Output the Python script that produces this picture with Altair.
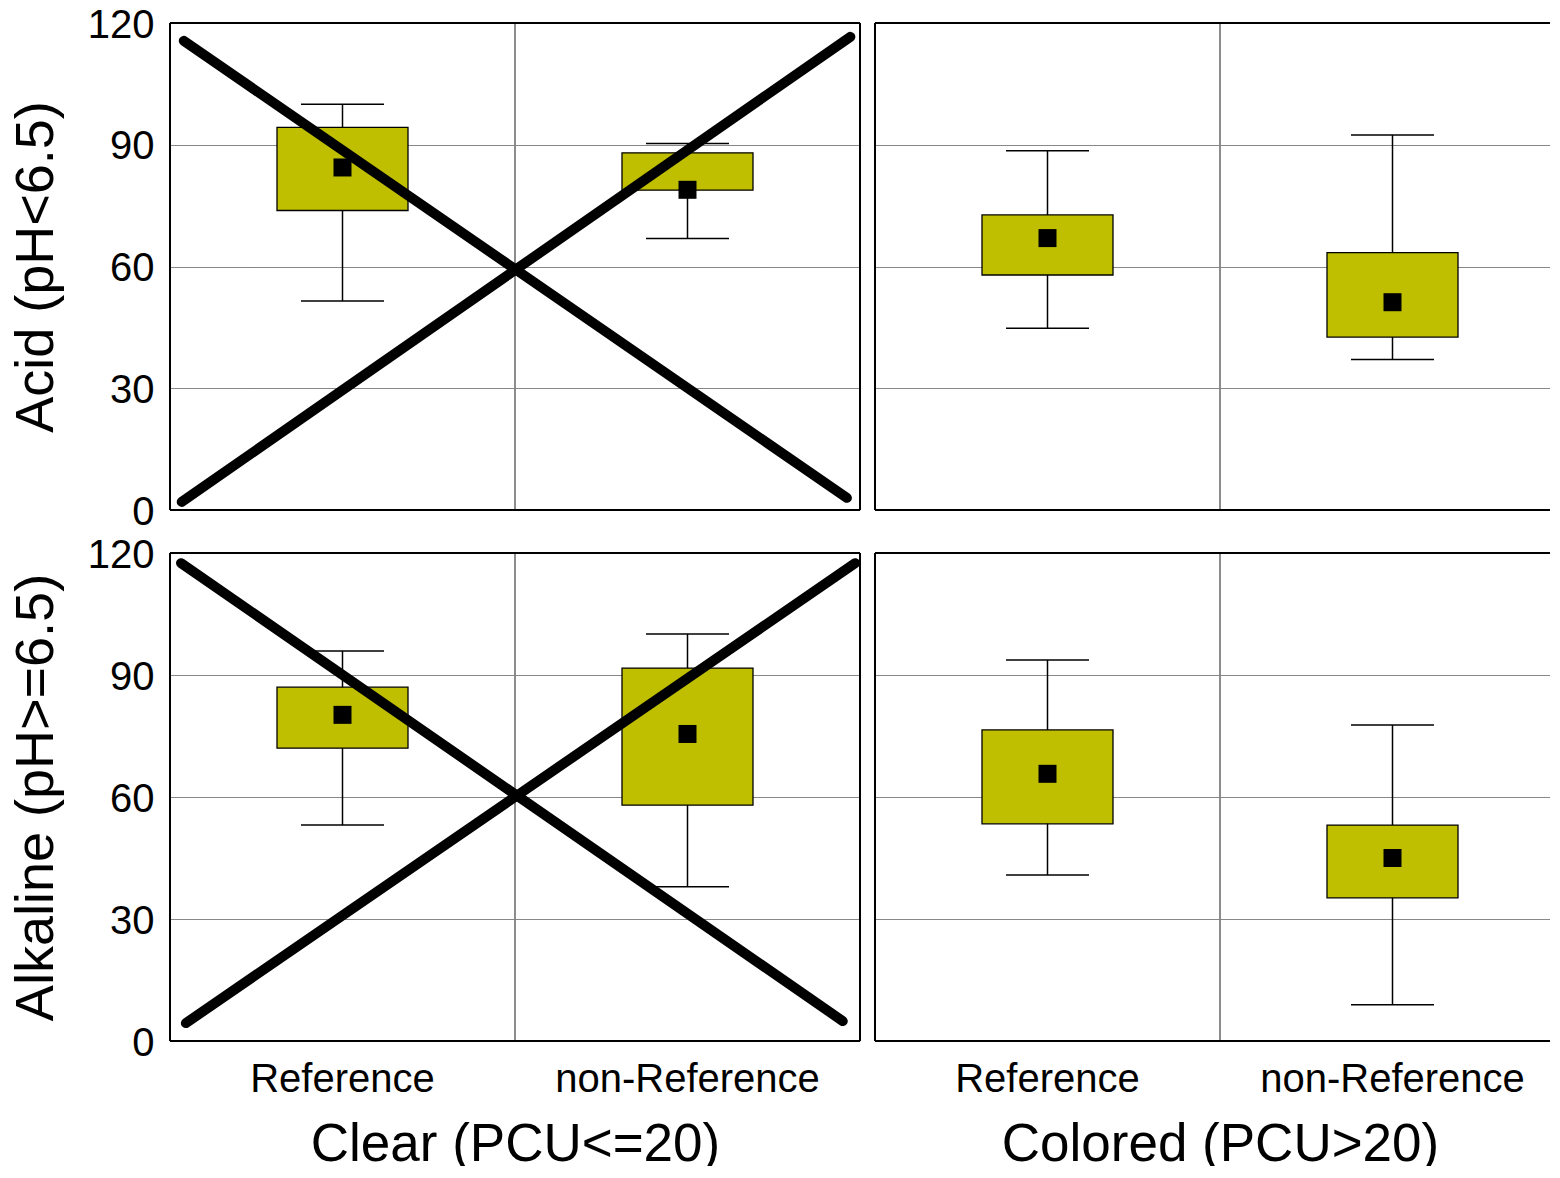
import altair as alt
import pandas as pd

categories = ["Reference", "non-Reference"]

# per panel: values for [Reference, non-Reference]
whisker_low = {"acid_clear": [51.5, 66.9], "acid_colored": [44.8, 37.1],
               "alk_clear": [53.1, 37.9], "alk_colored": [40.8, 8.9]}
q1 = {"acid_clear": [73.8, 78.8], "acid_colored": [57.9, 42.6],
      "alk_clear": [72.0, 58.0], "alk_colored": [53.4, 35.2]}
q3 = {"acid_clear": [94.3, 88.0], "acid_colored": [72.7, 63.4],
      "alk_clear": [87.0, 91.7], "alk_colored": [76.5, 53.1]}
whisker_high = {"acid_clear": [100.0, 90.3], "acid_colored": [88.5, 92.4],
                "alk_clear": [95.9, 100.1], "alk_colored": [93.7, 77.7]}
means = {"acid_clear": [84.4, 78.9], "acid_colored": [67.0, 51.2],
         "alk_clear": [80.2, 75.5], "alk_colored": [65.7, 45.0]}

# cross lines (x as fraction of panel width, y in data units)
cross_x = {"acid_clear": [[0.020, 0.981], [0.017, 0.986]],
           "alk_clear": [[0.016, 0.975], [0.023, 0.993]]}
cross_y = {"acid_clear": [[115.6, 3.0], [2.0, 116.6]],
           "alk_clear": [[117.5, 4.9], [4.4, 117.5]]}

y_ticks = [0, 30, 60, 90, 120]
row_titles = {"acid": "Acid (pH<6.5)", "alk": "Alkaline (pH>=6.5)"}
col_titles = {"clear": "Clear (PCU<=20)", "colored": "Colored (PCU>20)"}

FONT = "Liberation Sans"
FULL_W = 690
RIGHT_W = 682
OLIVE = "#BFBF00"


def panel(row, col, ci, ri):
    key = f"{row}_{col}"
    W = FULL_W if ci == 0 else RIGHT_W
    H = 487 if ri == 0 else 488
    xmax = W / FULL_W
    bottom = ri == 1

    yscale = alt.Scale(domain=[0, 120], nice=False, zero=False)
    yaxis = alt.Axis(values=y_ticks, grid=True, gridDash=[1, 1], gridColor="#111",
                     gridWidth=1.2, ticks=False, domain=False, labels=(ci == 0),
                     labelFontSize=40, labelPadding=16, labelColor="black", labelOffset=2,
                     title=row_titles[row] if ci == 0 else "",
                     titleFontSize=54, titleFontWeight="normal", titlePadding=24,
                     titleColor="black")
    xq = alt.Scale(domain=[0, xmax], nice=False, zero=False)
    bscale = alt.Scale(type="band", domain=categories, range=[0, FULL_W],
                       paddingInner=0, paddingOuter=0)
    df = pd.DataFrame({"cat": categories, "lo": whisker_low[key], "hi": whisker_high[key],
                       "q1": q1[key], "q3": q3[key], "mean": means[key]})
    base = alt.Chart(df)
    xb_noaxis = alt.X("cat:N", sort=categories, scale=bscale, axis=None)
    if bottom:
        xaxis = alt.Axis(labelFontSize=40, labelPadding=18, labelAngle=0, ticks=False,
                         domain=False, grid=False, labelColor="black", labelLimit=600,
                         title=col_titles[col], titleFontSize=53,
                         titleFontWeight="normal", titlePadding=19, titleColor="black")
        xb = alt.X("cat:N", sort=categories, scale=bscale, axis=xaxis)
    else:
        xb = xb_noaxis

    mid = alt.Chart(pd.DataFrame({"m": [0.5]})).mark_rule(color="#808080", strokeWidth=1.8).encode(
        x=alt.X("m:Q", scale=xq, axis=None),
        y=alt.Y(datum=0, scale=yscale, axis=yaxis),
        y2=alt.Y2(datum=120),
    )
    whisk = base.mark_rule(color="black", strokeWidth=1.5).encode(
        x=xb_noaxis, y=alt.Y("lo:Q", scale=yscale, axis=yaxis), y2="hi:Q")
    caps_hi = base.mark_tick(color="black", size=83, thickness=1.5, opacity=1).encode(
        x=xb_noaxis, y=alt.Y("hi:Q", scale=yscale, axis=yaxis))
    caps_lo = base.mark_tick(color="black", size=83, thickness=1.5, opacity=1).encode(
        x=xb_noaxis, y=alt.Y("lo:Q", scale=yscale, axis=yaxis))
    box = base.mark_bar(width=131, color=OLIVE, stroke="black", strokeWidth=1.3).encode(
        x=xb, y=alt.Y("q1:Q", scale=yscale, axis=yaxis), y2="q3:Q")
    mean = base.mark_square(size=324, color="black", opacity=1).encode(
        x=xb_noaxis, y=alt.Y("mean:Q", scale=yscale, axis=yaxis))

    vb = [0, 1] if ci == 0 else [0]
    vborders = alt.Chart(pd.DataFrame({"b": vb})).mark_rule(color="black", strokeWidth=2).encode(
        x=alt.X("b:Q", scale=xq, axis=None),
        y=alt.Y(datum=0, scale=yscale, axis=yaxis), y2=alt.Y2(datum=120))
    hborders = alt.Chart(pd.DataFrame({"b": [0, 120]})).mark_rule(color="black", strokeWidth=2).encode(
        y=alt.Y("b:Q", scale=yscale, axis=yaxis),
        x=alt.X(datum=0, scale=xq, axis=None), x2=alt.X2(datum=xmax))

    layers = [mid, whisk, caps_hi, caps_lo, box, mean]
    if key in cross_x:
        rows = []
        for i, (xs, ys) in enumerate(zip(cross_x[key], cross_y[key])):
            for xv, yv in zip(xs, ys):
                rows.append({"line": i, "x": xv, "v": yv})
        cross = alt.Chart(pd.DataFrame(rows)).mark_line(
            color="black", strokeWidth=10, strokeCap="round").encode(
            x=alt.X("x:Q", scale=xq, axis=None),
            y=alt.Y("v:Q", scale=yscale, axis=yaxis),
            detail="line:N")
        layers.append(cross)
    layers += [vborders, hborders]
    return alt.layer(*layers).resolve_scale(x="independent").properties(width=W, height=H)


chart = alt.concat(
    panel("acid", "clear", 0, 0), panel("acid", "colored", 1, 0),
    panel("alk", "clear", 0, 1), panel("alk", "colored", 1, 1),
    columns=2, spacing={"row": 43, "column": 15}, bounds="flush",
).properties(
    padding={"left": 0, "top": -4, "right": -16, "bottom": -6},
).configure_view(strokeWidth=0).configure(font=FONT)

chart.save("out.html", embed_options={"renderer": "svg", "actions": False})
